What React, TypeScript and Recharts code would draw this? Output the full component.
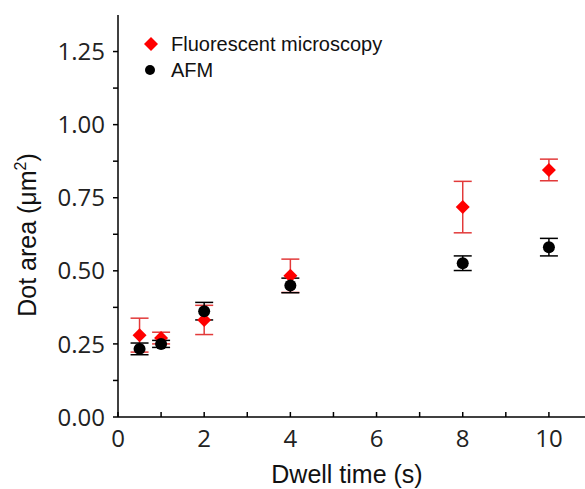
import { ScatterChart, Scatter, XAxis, YAxis, ErrorBar } from 'recharts'

const dwellTimes = [0.5, 1, 2, 4, 8, 10]
const fluoArea = [0.28, 0.27, 0.332, 0.483, 0.718, 0.845]
const fluoErr = [0.058, 0.02, 0.05, 0.057, 0.088, 0.037]
const afmArea = [0.233, 0.25, 0.362, 0.45, 0.526, 0.581]
const afmErr = [0.02, 0.012, 0.03, 0.025, 0.025, 0.03]

const xTicks = [0, 1, 2, 3, 4, 5, 6, 7, 8, 9, 10]
const xLabels = [0, 2, 4, 6, 8, 10]
const yTicks = [0, 0.125, 0.25, 0.375, 0.5, 0.625, 0.75, 0.875, 1, 1.125, 1.25]
const yLabels = [0, 0.25, 0.5, 0.75, 1, 1.25]
const seriesNames = ['Fluorescent microscopy', 'AFM']

const fluoData = dwellTimes.map((t, i) => ({ x: t, y: fluoArea[i], err: fluoErr[i] }))
const afmData = dwellTimes.map((t, i) => ({ x: t, y: afmArea[i], err: afmErr[i] }))

const FONT = '"Open Sans", sans-serif'
const ARIAL = '"Liberation Sans", Arial, sans-serif'
const TICK_LEN = 5
const Y_GAP = 13
const X_GAP = 12

function YTick(props: any) {
  const { x, y, payload } = props
  const axisX = x + Y_GAP
  const labelled = yLabels.includes(payload.value)
  return (
    <g>
      <line x1={axisX - TICK_LEN} x2={axisX} y1={y} y2={y} stroke="#000" strokeWidth={1.5} />
      {labelled && (
        <text x={x} y={y} dy="0.36em" textAnchor="end" fontSize={24} fontFamily={FONT} fill="#222">
          {payload.value.toFixed(2)}
        </text>
      )}
    </g>
  )
}

function XTick(props: any) {
  const { x, y, payload } = props
  const axisY = y - X_GAP
  const labelled = xLabels.includes(payload.value)
  return (
    <g>
      <line x1={x} x2={x} y1={axisY - TICK_LEN} y2={axisY} stroke="#000" strokeWidth={1.5} />
      {labelled && (
        <text x={x} y={y} dy="0.75em" textAnchor="middle" fontSize={24} fontFamily={FONT} fill="#222">
          {payload.value}
        </text>
      )}
    </g>
  )
}

const Diamond = (props: any) => {
  const { cx, cy } = props
  const r = 7
  return <polygon points={`${cx},${cy - r} ${cx + r},${cy} ${cx},${cy + r} ${cx - r},${cy}`} fill="#ff0000" />
}

const Dot = (props: any) => <circle cx={props.cx} cy={props.cy} r={6} fill="#000" />

function YLabel(props: any) {
  const { viewBox } = props
  const cx = 36
  const cy = viewBox.y + viewBox.height / 2 + 19
  return (
    <text x={cx} y={cy} transform={`rotate(-90 ${cx} ${cy})`} textAnchor="middle" fontSize={25} fontFamily={ARIAL} fill="#111">
      <tspan>Dot area (μm</tspan>
      <tspan dy={-10} fontSize={16}>2</tspan>
      <tspan dy={10}>)</tspan>
    </text>
  )
}

function XLabel(props: any) {
  const { viewBox } = props
  return (
    <text x={viewBox.x + viewBox.width / 2 - 8} y={viewBox.y + 66} textAnchor="middle" fontSize={25} fontFamily={ARIAL} fill="#111">
      Dwell time (s)
    </text>
  )
}

function LegendBox() {
  const item = { display: 'flex', alignItems: 'center', height: 26 }
  const txt = { fontFamily: ARIAL, fontSize: 20, color: '#111' }
  return (
    <div style={{ position: 'absolute', left: 131, top: 31 }}>
      <div style={item}>
        <svg width={40} height={26}>
          <polygon points="20,6 27,13 20,20 13,13" fill="#ff0000" />
        </svg>
        <span style={txt}>{seriesNames[0]}</span>
      </div>
      <div style={item}>
        <svg width={40} height={26}>
          <circle cx={19} cy={13} r={5} fill="#000" />
        </svg>
        <span style={txt}>{seriesNames[1]}</span>
      </div>
    </div>
  )
}

export default function App() {
  return (
    <div style={{ position: 'absolute', left: 0, top: 0, width: 585, height: 489, overflow: 'hidden', background: '#fff' }}>
      <ScatterChart width={597} height={489} margin={{ top: 15, right: 5, bottom: 0, left: 0 }}>
        <XAxis
          type="number"
          dataKey="x"
          domain={[0, 11]}
          ticks={xTicks}
          interval={0}
          tickSize={0}
          tickMargin={X_GAP}
          tick={<XTick />}
          axisLine={{ stroke: '#000', strokeWidth: 1.5 }}
          height={72}
          label={<XLabel />}
        />
        <XAxis
          xAxisId="top"
          orientation="top"
          type="number"
          dataKey="x"
          domain={[0, 11]}
          height={0}
          tick={false}
          tickLine={false}
          axisLine={{ stroke: '#000', strokeWidth: 1.5 }}
        />
        <YAxis
          type="number"
          dataKey="y"
          domain={[0, 1.375]}
          ticks={yTicks}
          interval={0}
          tickSize={0}
          tickMargin={Y_GAP}
          tick={<YTick />}
          axisLine={{ stroke: '#000', strokeWidth: 1.5 }}
          width={118}
          label={<YLabel />}
        />
        <Scatter name={seriesNames[0]} data={fluoData} shape={<Diamond />} fill="#ff0000" isAnimationActive={false}>
          <ErrorBar dataKey="err" direction="y" width={9} stroke="#e23a3a" strokeWidth={1.5} />
        </Scatter>
        <Scatter name={seriesNames[1]} data={afmData} shape={<Dot />} fill="#000" isAnimationActive={false}>
          <ErrorBar dataKey="err" direction="y" width={9} stroke="#000" strokeWidth={1.5} />
        </Scatter>
      </ScatterChart>
      <LegendBox />
    </div>
  )
}
